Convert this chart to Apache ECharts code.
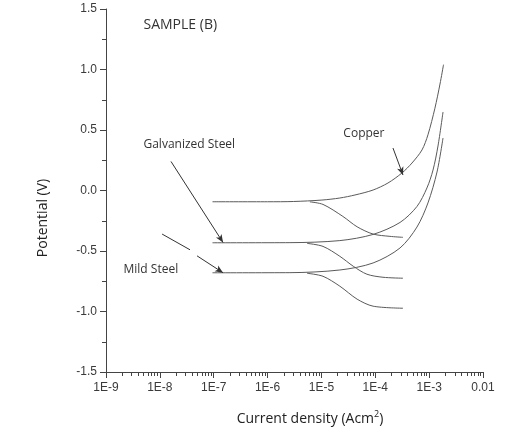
<!DOCTYPE html>
<html>
<head>
<meta charset="utf-8">
<script src="https://cdn.jsdelivr.net/npm/echarts@6/dist/echarts.min.js"></script>
<style>html,body{margin:0;padding:0;background:#fff}#c{width:510px;height:434px}</style>
</head>
<body>
<div id="c"></div>
<script>
// ---- data (current density A/cm2, potential V) ----
const copperAnodic = [[9.5e-8,-0.093],[1e-6,-0.093],[3e-6,-0.091],[1.02e-5,-0.079],[2.2e-5,-0.062],[4.2e-5,-0.037],[9.1e-5,0.004],[1.72e-4,0.062],[3.13e-4,0.145],[4.8e-4,0.227],[7.36e-4,0.335],[9.5e-4,0.46],[1.28e-3,0.68],[1.59e-3,0.88],[1.85e-3,1.04]];
const copperCathodic = [[6.1e-6,-0.094],[1.07e-5,-0.115],[2.5e-5,-0.214],[4.6e-5,-0.300],[9.1e-5,-0.360],[1.87e-4,-0.379],[3.27e-4,-0.387]];
const galvAnodic = [[9.5e-8,-0.432],[2.6e-6,-0.431],[2.2e-5,-0.414],[9.1e-5,-0.363],[2.88e-4,-0.264],[5.94e-4,-0.132],[9.1e-4,0.021],[1.18e-3,0.169],[1.46e-3,0.368],[1.81e-3,0.649]];
const galvCathodic = [[5.4e-6,-0.437],[1.07e-5,-0.462],[2.2e-5,-0.544],[3.9e-5,-0.626],[7.0e-5,-0.692],[1.39e-4,-0.717],[3.27e-4,-0.725]];
const mildAnodic = [[9.5e-8,-0.68],[2.6e-6,-0.679],[2.2e-5,-0.657],[9.1e-5,-0.599],[2.88e-4,-0.475],[5.94e-4,-0.302],[9.5e-4,-0.103],[1.4e-3,0.153],[1.81e-3,0.434]];
const mildCathodic = [[5.4e-6,-0.684],[1.07e-5,-0.709],[2.2e-5,-0.791],[4.6e-5,-0.898],[9.1e-5,-0.956],[3.27e-4,-0.973]];

// ---- ticks ----
const xTickLabels = ['1E-9','1E-8','1E-7','1E-6','1E-5','1E-4','1E-3','0.01'];
const xDecades = [-9,-8,-7,-6,-5,-4,-3];
const xMinorMultipliers = [2,3,4,5,6,7,8,9];
const yTickValues = [-1.5,-1.0,-0.5,0.0,0.5,1.0,1.5];

// ---- annotations ----
const labelTexts = [
  {name:'SAMPLE (B)', coord:[4.86e-9,1.368], size:14},
  {name:'Galvanized Steel', coord:[4.86e-9,0.376], size:12},
  {name:'Copper', coord:[2.5e-5,0.467], size:12},
  {name:'Mild Steel', coord:[2.07e-9,-0.657], size:12}
];
const arrows = [
  {from:[1.61e-8,0.24], to:[1.49e-7,-0.43], head:true},
  {from:[1.1e-8,-0.36], to:[3.63e-8,-0.49], head:false},
  {from:[4.9e-8,-0.54], to:[1.49e-7,-0.68], head:true},
  {from:[2.13e-4,0.351], to:[3.27e-4,0.128], head:true}
];

const xMinorPos = [];
xDecades.forEach(d => xMinorMultipliers.forEach(m => xMinorPos.push(d + Math.log10(m))));

const lineColor = '#5a5a5a';
const axisColor = '#444';
const fontFam = '"Open Sans", "Liberation Sans", sans-serif';

function curve(name, data, extra) {
  return Object.assign({
    name: name, type: 'line', data: data, xAxisIndex: 0, yAxisIndex: 0,
    smooth: 0.3, showSymbol: false, symbol: 'none', silent: true,
    lineStyle: {color: lineColor, width: 1}
  }, extra || {});
}

const chart = echarts.init(document.getElementById('c'), null, {renderer: 'canvas'});
chart.setOption({
  animation: false,
  backgroundColor: '#ffffff',
  grid: {left: 106, right: 27, top: 9, bottom: 62, containLabel: false, outerBoundsMode: 'none'},
  xAxis: [
    {
      type: 'log', logBase: 10, min: 1e-9, max: 0.01, splitNumber: 7, position: 'bottom',
      axisLine: {show: true, onZero: false, lineStyle: {color: axisColor, width: 1}},
      axisTick: {show: true, length: 6, lineStyle: {color: axisColor}},
      minorTick: {show: false},
      splitLine: {show: false},
      axisLabel: {
        margin: 10, color: '#3a3a3a', fontSize: 12, fontFamily: '"Liberation Sans", Arial, sans-serif',
        formatter: v => xTickLabels[Math.round(Math.log10(v)) + 9]
      }
    },
    {
      type: 'value', min: -9, max: -2, position: 'bottom', gridIndex: 0,
      axisLine: {show: false, onZero: false},
      axisLabel: {show: false},
      splitLine: {show: false},
      axisTick: {show: true, length: 4, customValues: xMinorPos, lineStyle: {color: axisColor}}
    }
  ],
  yAxis: {
    type: 'value', min: -1.5, max: 1.5, interval: 0.5,
    axisLine: {show: true, onZero: false, lineStyle: {color: axisColor, width: 1}},
    axisTick: {show: true, length: 6, lineStyle: {color: axisColor}},
    minorTick: {show: true, splitNumber: 2, length: 4, lineStyle: {color: axisColor}},
    splitLine: {show: false},
    axisLabel: {
      margin: 9, color: '#3a3a3a', fontSize: 12, fontFamily: '"Liberation Sans", Arial, sans-serif',
      formatter: v => yTickValues.includes(Number(v.toFixed(1))) ? v.toFixed(1) : ''
    }
  },
  graphic: [
    {type: 'text', x: 310, y: 419, silent: true,
      style: {text: 'Current density (Acm{s|2})', fill: '#222', font: '14px ' + fontFam,
        align: 'center', verticalAlign: 'middle',
        rich: {s: {fontSize: 9, fontFamily: fontFam, verticalAlign: 'top', fill: '#222', lineHeight: 18, padding:[0,0,6,0]}}}},
    {type: 'text', x: 43, y: 218, rotation: Math.PI / 2, silent: true,
      style: {text: 'Potential (V)', fill: '#222', font: '14px ' + fontFam, align: 'center', verticalAlign: 'middle'}}
  ],
  series: [
    curve('Copper', copperAnodic, {
      markLine: {
        silent: true, animation: false, symbol: ['none', 'arrow'], symbolSize: [5, 8],
        label: {show: false},
        lineStyle: {color: '#333', width: 1, type: 'solid'},
        data: arrows.map(a => [
          {coord: a.from, symbol: 'none'},
          {coord: a.to, symbol: a.head ? 'arrow' : 'none'}
        ])
      },
      markPoint: {
        silent: true, animation: false, symbol: 'circle', symbolSize: 1,
        itemStyle: {color: 'rgba(0,0,0,0)'},
        data: labelTexts.map(t => ({
          name: t.name, coord: t.coord,
          label: {show: true, position: 'right', distance: 0, formatter: '{b}',
            color: '#333', fontSize: t.size, fontFamily: fontFam}
        }))
      }
    }),
    curve('Copper cathodic', copperCathodic),
    curve('Galvanized Steel', galvAnodic),
    curve('Galvanized cathodic', galvCathodic),
    curve('Mild Steel', mildAnodic),
    curve('Mild cathodic', mildCathodic)
  ]
});
</script>
</body>
</html>
